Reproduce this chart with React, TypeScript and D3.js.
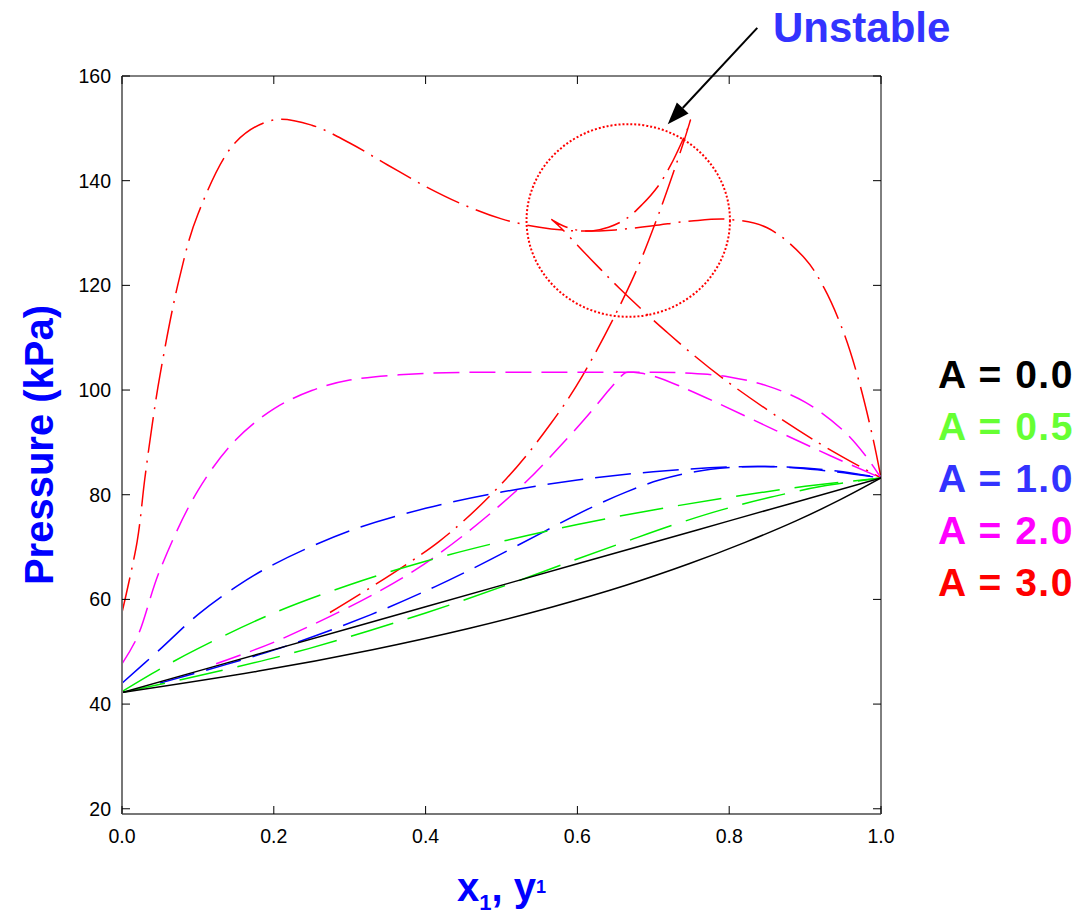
import React from "react";
import * as d3 from "d3";

type Pt = [number, number];

// P–x (bubble) and P–y (dew) curves, [x1 or y1, pressure kPa]
const bubbleA00: Pt[] = [[0, 42.2], [0.2, 50.4], [0.4, 58.6], [0.6, 66.8], [0.8, 75.0], [1, 83.2]];
const dewA00: Pt[] = [[0, 42.2], [0.18, 46.3], [0.33, 50.4], [0.458, 54.5], [0.568, 58.6], [0.664, 62.7], [0.747, 66.8], [0.821, 70.9], [0.888, 75.0], [0.947, 79.1], [1, 83.2]];

const bubbleA05: Pt[] = [[0, 42.4], [0.05, 46.7], [0.1, 50.6], [0.2, 57.4], [0.3, 62.8], [0.4, 67.3], [0.5, 71.05], [0.6, 74.3], [0.7, 77.1], [0.8, 79.5], [0.9, 81.6], [1, 83.2]];
const dewA05: Pt[] = [[0, 42.2], [0.14, 46.7], [0.246, 50.6], [0.4, 57.4], [0.508, 62.8], [0.592, 67.3], [0.664, 71.05], [0.728, 74.3], [0.79, 77.1], [0.854, 79.5], [0.922, 81.6], [1, 83.2]];

const bubbleA10: Pt[] = [[0, 44.0], [0.05, 50.45], [0.1, 57.1], [0.15, 62.4], [0.2, 66.7], [0.3, 73.1], [0.4, 77.4], [0.5, 80.5], [0.6, 82.8], [0.7, 84.4], [0.8, 85.3], [0.85, 85.4], [0.9, 85.1], [0.95, 84.4], [1, 83.2]];
const dewA10: Pt[] = [[0.05, 44.0], [0.203, 50.45], [0.328, 57.1], [0.412, 62.4], [0.473, 66.7], [0.558, 73.1], [0.616, 77.4], [0.664, 80.5], [0.708, 82.8], [0.755, 84.4], [0.812, 85.3], [0.847, 85.4], [0.889, 85.1], [0.938, 84.4], [1, 83.2]];

const bubbleA20: Pt[] = [[0, 47.7], [0.02, 52.75], [0.05, 65.6], [0.1, 80.8], [0.15, 90.5], [0.2, 96.4], [0.25, 99.9], [0.3, 101.9], [0.4, 103.2], [0.5, 103.4], [0.6, 103.4], [0.7, 103.4], [0.75, 103.2], [0.8, 102.5], [0.85, 100.8], [0.9, 97.7], [0.95, 92.3], [0.98, 87.4], [1, 83.2]];
const dewA20: Pt[] = [[0.124, 47.7], [0.215, 52.75], [0.386, 65.6], [0.52, 80.8], [0.585, 90.5], [0.621, 96.4], [0.641, 99.9], [0.653, 101.9], [0.662, 103.2], [0.667, 103.4], [0.674, 103.4], [0.685, 103.2], [0.704, 102.5], [0.734, 100.8], [0.782, 97.7], [0.861, 92.3], [0.934, 87.4], [1, 83.2]];

const bubbleA30: Pt[] = [[0, 57.5], [0.02, 71.1], [0.03, 83.0], [0.04, 93.6], [0.05, 102.8], [0.075, 121.0], [0.1, 133.6], [0.15, 147.4], [0.2, 151.6], [0.25, 150.6], [0.3, 147.2], [0.35, 143.0], [0.4, 138.9], [0.45, 135.4], [0.5, 132.7], [0.55, 131.1], [0.6, 130.4], [0.65, 130.6], [0.7, 131.4], [0.75, 132.3], [0.8, 132.6], [0.85, 131.0], [0.9, 125.1], [0.925, 119.5], [0.95, 111.3], [0.97, 102.2], [0.99, 90.4], [1, 83.2]];
const dewA30: Pt[] = [[0.274, 57.5], [0.418, 71.1], [0.506, 83.0], [0.565, 93.6], [0.607, 102.8], [0.672, 121.0], [0.707, 133.6], [0.74, 147.4], [0.749, 151.6], [0.747, 150.6], [0.737, 147.2], [0.723, 143.0], [0.706, 138.9], [0.685, 135.4], [0.664, 132.7], [0.641, 131.1], [0.619, 130.4], [0.598, 130.6], [0.581, 131.4], [0.569, 132.3], [0.566, 132.6], [0.578, 131.0], [0.617, 125.1], [0.655, 119.5], [0.716, 111.3], [0.792, 102.2], [0.912, 90.4], [1, 83.2]];

const legendLabels = ["A = 0.0", "A = 0.5", "A = 1.0", "A = 2.0", "A = 3.0"];
const xTicks = [0, 0.2, 0.4, 0.6, 0.8, 1.0];
const yTicks = [20, 40, 60, 80, 100, 120, 140, 160];

// unstable region marker (data units)
const unstableCenter: Pt = [0.667, 132.4];
const unstableRadius: Pt = [0.134, 18.4];
const arrowFrom: Pt = [0.837, 169.2];
const arrowTo: Pt = [0.719, 150.8];

const series = [
  { curves: [bubbleA30, dewA30], color: "#ff0000", dash: "36 8 2 8" },
  { curves: [bubbleA20, dewA20], color: "#ff00ff", dash: "26 10" },
  { curves: [bubbleA10, dewA10], color: "#0000ff", dash: "36 12" },
  { curves: [bubbleA05, dewA05], color: "#00ee00", dash: "44 15" },
  { curves: [bubbleA00, dewA00], color: "#000000", dash: "none" },
];
const legendColors = ["#000000", "#66ff33", "#3333ff", "#ff00ff", "#ff0000"];

const W = 1079;
const H = 915;
const left = 122, right = 881, top = 76, bottom = 814;
const font = "Arial, 'Liberation Sans', sans-serif";

export default function App() {
  const x = d3.scaleLinear().domain([0, 1]).range([left, right]);
  const y = d3.scaleLinear().domain([19, 160]).range([bottom, top]);
  const line = d3.line<Pt>()
    .x(d => x(d[0]))
    .y(d => y(d[1]))
    .curve(d3.curveCatmullRom.alpha(0.5));

  const cx = x(unstableCenter[0]);
  const cy = y(unstableCenter[1]);
  const rx = x(unstableRadius[0]) - x(0);
  const ry = y(0) - y(unstableRadius[1]);

  const ax1 = x(arrowFrom[0]), ay1 = y(arrowFrom[1]);
  const ax2 = x(arrowTo[0]), ay2 = y(arrowTo[1]);
  const ang = Math.atan2(ay2 - ay1, ax2 - ax1);
  const headLen = 22, headW = 8;
  const bx = ax2 - headLen * Math.cos(ang), by = ay2 - headLen * Math.sin(ang);
  const head = [
    [ax2, ay2],
    [bx + headW * Math.sin(ang), by - headW * Math.cos(ang)],
    [bx - headW * Math.sin(ang), by + headW * Math.cos(ang)],
  ].map(p => p.join(",")).join(" ");

  return (
    <svg width={W} height={H} style={{ position: "absolute", left: 0, top: 0, background: "#fff" }} fontFamily={font}>
      <defs>
        <clipPath id="plot">
          <rect x={left} y={top} width={right - left} height={bottom - top} />
        </clipPath>
      </defs>

      <g clipPath="url(#plot)">
        {series.map((s, i) =>
          s.curves.map((c, j) => (
            <path key={`${i}-${j}`} d={line(c) || ""} fill="none" stroke={s.color}
              strokeWidth={1.5} strokeDasharray={s.dash} />
          ))
        )}
      </g>

      {/* frame */}
      <line x1={left} x2={right} y1={top} y2={top} stroke="#000" strokeWidth={1} />
      <line x1={right} x2={right} y1={top} y2={bottom} stroke="#000" strokeWidth={1} />
      <line x1={left} x2={left} y1={top} y2={bottom} stroke="#777" strokeWidth={2} />
      <line x1={left} x2={right} y1={bottom} y2={bottom} stroke="#777" strokeWidth={2} />

      {yTicks.map(t => (
        <g key={`y${t}`}>
          <line x1={left} x2={left + 8} y1={y(t)} y2={y(t)} stroke="#000" />
          <line x1={right - 8} x2={right} y1={y(t)} y2={y(t)} stroke="#000" />
          <text x={left - 11} y={y(t)} dy="0.35em" textAnchor="end" fontSize={19.5}>{t}</text>
        </g>
      ))}
      {xTicks.map(t => (
        <g key={`x${t}`}>
          <line x1={x(t)} x2={x(t)} y1={bottom} y2={bottom - 8} stroke="#000" />
          <line x1={x(t)} x2={x(t)} y1={top} y2={top + 8} stroke="#000" />
          <text x={x(t)} y={bottom + 29} textAnchor="middle" fontSize={19.5}>{t.toFixed(1)}</text>
        </g>
      ))}

      {/* axis titles */}
      <text transform={`translate(53,${(top + bottom) / 2}) rotate(-90)`} textAnchor="middle"
        fontSize={40} fontWeight="bold" fill="#0000ff">Pressure (kPa)</text>
      <text x={(left + right) / 2} y={901} textAnchor="middle" fontSize={40} fontWeight="bold" fill="#0000ff">
        x<tspan fontSize={22} dy={9}>1</tspan><tspan dy={-9}>, y</tspan><tspan fontSize={18} dy={-8}>1</tspan>
      </text>

      {/* legend */}
      {legendLabels.map((l, i) => (
        <text key={l} x={938} y={388 + i * 52} fontSize={39} fontWeight="bold" fill={legendColors[i]}
          letterSpacing={1.5} style={{ whiteSpace: "pre" }}>{l}</text>
      ))}

      {/* unstable annotation */}
      <ellipse cx={cx} cy={cy} rx={rx} ry={ry} fill="none" stroke="#ff0000" strokeWidth={2} strokeDasharray="2 2" />
      <line x1={ax1} y1={ay1} x2={bx} y2={by} stroke="#000" strokeWidth={2} />
      <polygon points={head} fill="#000" />
      <text x={773} y={42} fontSize={42} fontWeight="bold" fill="#3333ff">Unstable</text>
    </svg>
  );
}
